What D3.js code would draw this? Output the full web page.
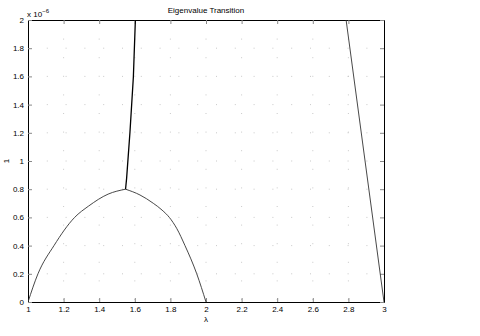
<!DOCTYPE html>
<html>
<head>
<meta charset="utf-8">
<script src="https://cdn.jsdelivr.net/npm/d3@7"></script>
<style>
  body { margin: 0; background: #fff; }
  text { font-family: "Liberation Sans", Arial, sans-serif; fill: #000; }
</style>
</head>
<body>
<div id="chart"></div>
<script>
// values (y in units of 1e-6)
const xTicks = [1, 1.2, 1.4, 1.6, 1.8, 2, 2.2, 2.4, 2.6, 2.8, 3];
const yTicks = [0, 0.2, 0.4, 0.6, 0.8, 1, 1.2, 1.4, 1.6, 1.8, 2];

// left half of the arch, up to the cusp
const leftX = [1, 1.056, 1.146, 1.262, 1.34, 1.45, 1.548];
const leftY = [0, 0.2, 0.4, 0.6, 0.68, 0.765, 0.8];

// right half of the arch, from the cusp
const rightArchX = [1.548, 1.629, 1.704, 1.753, 1.794, 1.835, 1.882, 1.948, 2];
const rightArchY = [0.8, 0.759, 0.70, 0.652, 0.6, 0.523, 0.4, 0.2, 0];

const steepX = [1.548, 1.554, 1.573, 1.592, 1.606];
const steepY = [0.8, 0.877, 1.208, 1.598, 2.1];

const rightX = [2.785, 3];
const rightY = [2.02, 0];

const width = 480, height = 336;
const margin = { top: 20, right: 96, bottom: 34, left: 28 };
const innerW = width - margin.left - margin.right;
const innerH = height - margin.top - margin.bottom;

const svg = d3.select("#chart").append("svg")
  .attr("width", width).attr("height", height);

const g = svg.append("g").attr("transform", `translate(${margin.left},${margin.top})`);

const x = d3.scaleLinear().domain([1, 3]).range([0, innerW]);
const y = d3.scaleLinear().domain([0, 2]).range([innerH, 0]);

// dotted grid
g.append("g").selectAll("line").data(xTicks.slice(1, -1)).join("line")
  .attr("x1", d => x(d)).attr("x2", d => x(d)).attr("y1", 0).attr("y2", innerH)
  .attr("stroke", "#bbb").attr("stroke-width", 0.8).attr("stroke-dasharray", "1,17.6");
g.append("g").selectAll("line").data(yTicks.slice(1, -1)).join("line")
  .attr("y1", d => y(d)).attr("y2", d => y(d)).attr("x1", 0).attr("x2", innerW)
  .attr("stroke", "#bbb").attr("stroke-width", 0.8).attr("stroke-dasharray", "1,17.8");

// axes (ticks inward)
const fmt = d3.format("~g");
const xAxis = g.append("g").attr("transform", `translate(0,${innerH})`)
  .call(d3.axisBottom(x).tickValues(xTicks).tickFormat(fmt).tickSizeInner(-4).tickSizeOuter(0).tickPadding(5));
const xAxisTop = g.append("g")
  .call(d3.axisTop(x).tickValues(xTicks).tickFormat("").tickSizeInner(-4).tickSizeOuter(0));
const yAxis = g.append("g")
  .call(d3.axisLeft(y).tickValues(yTicks).tickFormat(fmt).tickSizeInner(-4).tickSizeOuter(0).tickPadding(4));
const yAxisRight = g.append("g").attr("transform", `translate(${innerW},0)`)
  .call(d3.axisRight(y).tickValues(yTicks).tickFormat("").tickSizeInner(-4).tickSizeOuter(0));

[xAxis, xAxisTop, yAxis, yAxisRight].forEach(a => {
  a.select(".domain").attr("stroke", "#000").attr("stroke-width", 1);
  a.selectAll(".tick line").attr("stroke", "#888");
  a.selectAll("text").style("font-size", "8px");
});
xAxis.selectAll("text").attr("dy", "0.6em");

// curves
g.append("clipPath").attr("id", "clip").append("rect")
  .attr("width", innerW).attr("height", innerH);
const smooth = d3.line().x(d => x(d[0])).y(d => y(d[1])).curve(d3.curveMonotoneX);
const straight = d3.line().x(d => x(d[0])).y(d => y(d[1]));
const plot = g.append("g").attr("clip-path", "url(#clip)");
plot.append("path").datum(d3.zip(leftX, leftY)).attr("d", smooth)
  .attr("fill", "none").attr("stroke", "#333").attr("stroke-width", 0.9);
plot.append("path").datum(d3.zip(rightArchX, rightArchY)).attr("d", smooth)
  .attr("fill", "none").attr("stroke", "#333").attr("stroke-width", 0.9);
plot.append("path").datum(d3.zip(steepX, steepY)).attr("d", straight)
  .attr("fill", "none").attr("stroke", "#000").attr("stroke-width", 1.3);
plot.append("path").datum(d3.zip(rightX, rightY)).attr("d", straight)
  .attr("fill", "none").attr("stroke", "#333").attr("stroke-width", 0.9);

// labels
svg.append("text").attr("x", margin.left + innerW / 2).attr("y", 13)
  .attr("text-anchor", "middle").style("font-size", "8px").text("Eigenvalue Transition");
svg.append("text").attr("x", margin.left + innerW / 2).attr("y", 322)
  .attr("text-anchor", "middle").style("font-size", "8px").text("λ");
svg.append("text").attr("transform", `translate(9,${margin.top + innerH / 2}) rotate(-90)`)
  .attr("text-anchor", "middle").style("font-size", "8px").text("1");
const exp = svg.append("text").attr("x", 27).attr("y", 17).style("font-size", "8px");
exp.append("tspan").text("x 10");
exp.append("tspan").attr("dy", -4).style("font-size", "6px").text("−6");
</script>
</body>
</html>
